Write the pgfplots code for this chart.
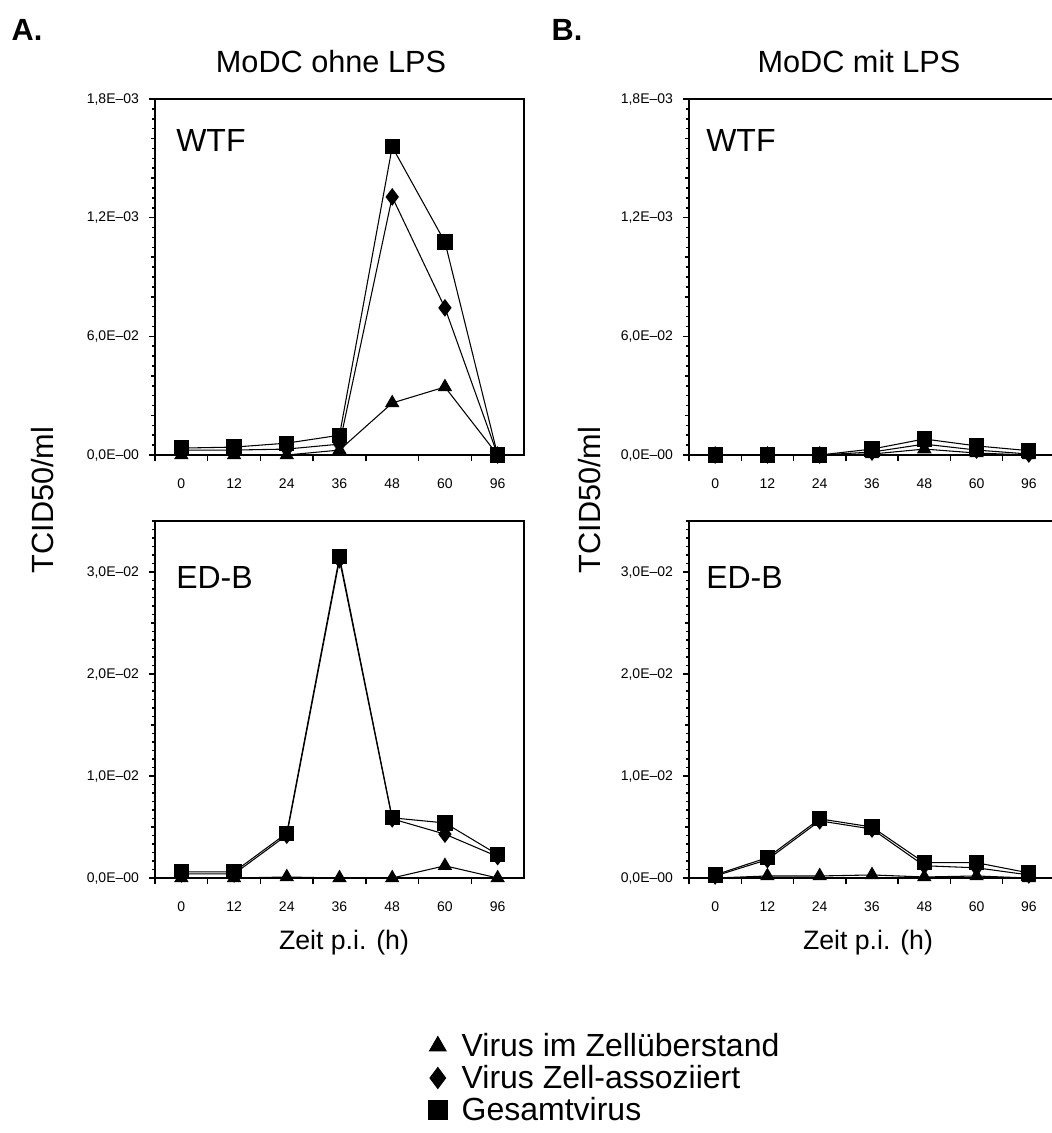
\documentclass[border=0pt]{standalone}
\usepackage{pgfplots}
\pgfplotsset{compat=1.18}
\usepackage{fontspec}
\setmainfont{Liberation Sans}

% common look of the four panels
\pgfplotsset{
  panel/.style={
    scale only axis,
    xmin=-0.5, xmax=6.5, ymin=0,
    clip mode=individual,
    axis line style={line width=1.4pt},
    tick pos=left, tick align=outside,
    tick style={black, line width=1.1pt},
    major tick length=4.5pt, minor tick length=2pt,
    xtick={-0.5,0.5,...,5.5}, xticklabels={},
    extra x ticks={0,1,...,6},
    extra x tick labels={0,12,24,36,48,60,96},
    extra x tick style={major tick length=0pt, xticklabel shift=14pt},
    tick label style={font=\fontsize{10.5}{12}\selectfont},
    yticklabel shift=4pt,
    legend image code/.code={\draw[#1, every mark/.append style={scale=1.3}] plot coordinates {(0.3cm,0cm)};},
  },
  wtf/.style={
    ymax=1800, ytick={0,600,1200,1800},
    yticklabels={{0,0E--00},{6,0E--02},{1,2E--03},{1,8E--03}},
    minor ytick={0,50,...,1800},
    extra y ticks={200,400,800,1000,1400,1600}, extra y tick labels={},
    extra y tick style={major tick length=3pt},
  },
  edb/.style={
    ymax=3.5, ytick={0,1,2,3},
    yticklabels={{0,0E--00},{1,0E--02},{2,0E--02},{3,0E--02}},
    minor ytick={0,0.083333,...,3.5},
    extra y ticks={0.5,1.5,2.5}, extra y tick labels={},
    extra y tick style={major tick length=3pt},
  },
  tri/.style={black, line width=0.8pt, mark=triangle*, mark size=5.5pt, mark options={solid, fill=black}},
  dia/.style={black, line width=0.8pt, mark=diamond*, mark size=6pt, mark options={solid, fill=black}},
  sq/.style={black, line width=0.8pt, mark=square*, mark size=5.3pt, mark options={solid, fill=black}},
}

\begin{document}
\begin{tikzpicture}

% A: MoDC ohne LPS, WTF
\begin{axis}[panel, wtf, at={(155*0.75pt,-455*0.75pt)}, anchor=south west,
  width=276.75pt, height=267pt]
  \addplot[tri] coordinates {(0,0)(1,0)(2,0)(3,25)(4,263)(5,344)(6,0)};
  \addplot[dia] coordinates {(0,25)(1,25)(2,30)(3,55)(4,1305)(5,744)(6,0)};
  \addplot[sq]  coordinates {(0,35)(1,40)(2,60)(3,100)(4,1558)(5,1077)(6,0)};
\end{axis}

% A: MoDC ohne LPS, ED-B (carries the legend)
\begin{axis}[panel, edb, at={(155*0.75pt,-878*0.75pt)}, anchor=south west,
  width=276.75pt, height=267.75pt,
  legend style={at={(0.73,-0.42)}, anchor=north west, draw=none, fill=none,
    font=\fontsize{24}{26}\selectfont, row sep=1pt,
    /tikz/every odd column/.append style={column sep=9pt}},
  legend cell align=left]
  \addplot[tri] coordinates {(0,0)(1,0)(2,0.01)(3,0)(4,0)(5,0.12)(6,0)};
  \addlegendentry{Virus im Zellüberstand}
  \addplot[dia] coordinates {(0,0.04)(1,0.04)(2,0.42)(3,3.12)(4,0.58)(5,0.43)(6,0.21)};
  \addlegendentry{Virus Zell-assoziiert}
  \addplot[sq]  coordinates {(0,0.06)(1,0.06)(2,0.44)(3,3.15)(4,0.59)(5,0.54)(6,0.23)};
  \addlegendentry{Gesamtvirus}
\end{axis}

% B: MoDC mit LPS, WTF
\begin{axis}[panel, wtf, at={(689*0.75pt,-455*0.75pt)}, anchor=south west,
  width=274.5pt, height=267pt]
  \addplot[tri] coordinates {(0,0)(1,0)(2,0)(3,5)(4,30)(5,10)(6,0)};
  \addplot[dia] coordinates {(0,0)(1,0)(2,0)(3,15)(4,55)(5,25)(6,5)};
  \addplot[sq]  coordinates {(0,0)(1,0)(2,0)(3,30)(4,81)(5,46)(6,22)};
\end{axis}

% B: MoDC mit LPS, ED-B
\begin{axis}[panel, edb, at={(689*0.75pt,-878*0.75pt)}, anchor=south west,
  width=274.5pt, height=267.75pt]
  \addplot[tri] coordinates {(0,0)(1,0.02)(2,0.02)(3,0.03)(4,0.01)(5,0.02)(6,0)};
  \addplot[dia] coordinates {(0,0.02)(1,0.18)(2,0.56)(3,0.48)(4,0.12)(5,0.10)(6,0.03)};
  \addplot[sq]  coordinates {(0,0.03)(1,0.20)(2,0.58)(3,0.50)(4,0.15)(5,0.15)(6,0.05)};
\end{axis}

% headings and labels
\begin{scope}[x=0.75pt, y=-0.75pt]
  \node[font=\fontsize{23}{23}\selectfont\bfseries] at (27,30) {A.};
  \node[font=\fontsize{23}{23}\selectfont\bfseries] at (567,30) {B.};
  \node[font=\fontsize{23}{23}\selectfont] at (331,62) {MoDC ohne LPS};
  \node[font=\fontsize{23}{23}\selectfont] at (859,62) {MoDC mit LPS};
  \node[font=\fontsize{24}{24}\selectfont, anchor=west, inner sep=0pt] at (176,140) {WTF};
  \node[font=\fontsize{24}{24}\selectfont, anchor=west, inner sep=0pt] at (176,577) {ED-B};
  \node[font=\fontsize{24}{24}\selectfont, anchor=west, inner sep=0pt] at (706,140) {WTF};
  \node[font=\fontsize{24}{24}\selectfont, anchor=west, inner sep=0pt] at (706,577) {ED-B};
  \node[font=\fontsize{23}{23}\selectfont, rotate=90] at (43,500) {TCID50/ml};
  \node[font=\fontsize{23}{23}\selectfont, rotate=90] at (590,500) {TCID50/ml};
  \node[font=\fontsize{20}{20}\selectfont] at (344,943) {Zeit p.i. (h)};
  \node[font=\fontsize{20}{20}\selectfont] at (868,943) {Zeit p.i. (h)};
  \pgfresetboundingbox
  \path[use as bounding box] (0,0) rectangle (1051,1133);
\end{scope}

\end{tikzpicture}
\end{document}
